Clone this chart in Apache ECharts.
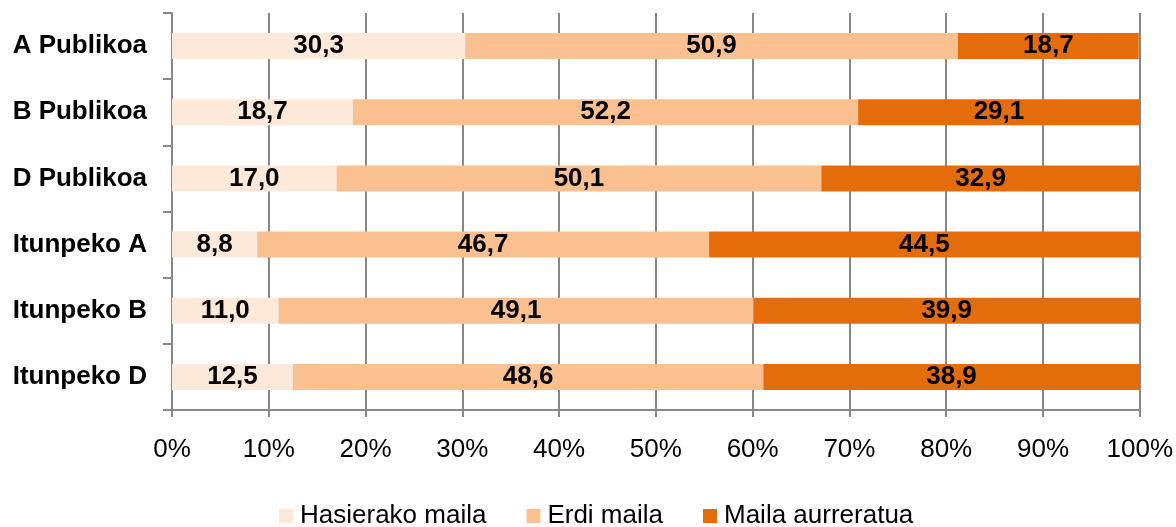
<!DOCTYPE html>
<html>
<head>
<meta charset="utf-8">
<script src="https://cdn.jsdelivr.net/npm/echarts@6/dist/echarts.min.js"></script>
<style>
  html, body { margin: 0; padding: 0; background: #fff; }
  #chart { width: 1176px; height: 527px; }
</style>
</head>
<body>
<div id="chart"></div>
<script>
// Ikastetxe motak (goitik behera)
const categories = ['A Publikoa', 'B Publikoa', 'D Publikoa', 'Itunpeko A', 'Itunpeko B', 'Itunpeko D'];
const seriesNames = ['Hasierako maila', 'Erdi maila', 'Maila aurreratua'];
// Ehunekoak maila bakoitzeko
const hasierakoMaila = [30.3, 18.7, 17.0, 8.8, 11.0, 12.5];
const erdiMaila = [50.9, 52.2, 50.1, 46.7, 49.1, 48.6];
const mailaAurreratua = [18.7, 29.1, 32.9, 44.5, 39.9, 38.9];
const xTicks = [0, 10, 20, 30, 40, 50, 60, 70, 80, 90, 100];

const colors = ['#FDE9D9', '#FAC090', '#E46C0A'];
const FONT = '"Liberation Sans", Arial, sans-serif';
const FS = 26;

const chart = echarts.init(document.getElementById('chart'), null, { renderer: 'canvas' });

function barSeries(name, data, color) {
  return {
    name: name,
    type: 'bar',
    stack: 'total',
    data: data,
    barWidth: 26,
    itemStyle: { color: color },
    label: {
      show: true,
      position: 'inside',
      color: '#000',
      fontFamily: FONT,
      fontWeight: 'bold',
      fontSize: FS,
      formatter: p => p.value.toFixed(1).replace('.', ',')
    },
    emphasis: { disabled: true },
    animation: false
  };
}

chart.setOption({
  animation: false,
  textStyle: { fontFamily: FONT },
  grid: { left: 172, right: 35.5, top: 13, bottom: 117, containLabel: false },
  legend: {
    top: 503,
    left: 279,
    padding: 0,
    itemWidth: 14,
    itemHeight: 14,
    itemGap: 40,
    icon: 'rect',
    textStyle: { fontFamily: FONT, fontSize: FS, color: '#000', padding: [0, 0, 0, 2] },
    data: seriesNames
  },
  xAxis: {
    type: 'value',
    min: xTicks[0],
    max: xTicks[xTicks.length - 1],
    interval: 10,
    axisLine: { show: true, lineStyle: { color: '#888', width: 2 } },
    axisTick: { show: true, length: 7, lineStyle: { color: '#888', width: 2 } },
    splitLine: { show: true, lineStyle: { color: '#888', width: 2 } },
    axisLabel: {
      margin: 27,
      color: '#000',
      fontFamily: FONT,
      fontSize: FS,
      formatter: v => v + '%'
    }
  },
  yAxis: {
    type: 'category',
    inverse: true,
    data: categories,
    axisLine: { show: true, lineStyle: { color: '#888', width: 2 } },
    axisTick: { show: true, length: 9, lineStyle: { color: '#888', width: 2 } },
    axisLabel: {
      margin: 25,
      color: '#000',
      fontFamily: FONT,
      fontWeight: 'bold',
      fontSize: FS
    }
  },
  series: [
    barSeries(seriesNames[0], hasierakoMaila, colors[0]),
    barSeries(seriesNames[1], erdiMaila, colors[1]),
    barSeries(seriesNames[2], mailaAurreratua, colors[2])
  ]
});
</script>
</body>
</html>
